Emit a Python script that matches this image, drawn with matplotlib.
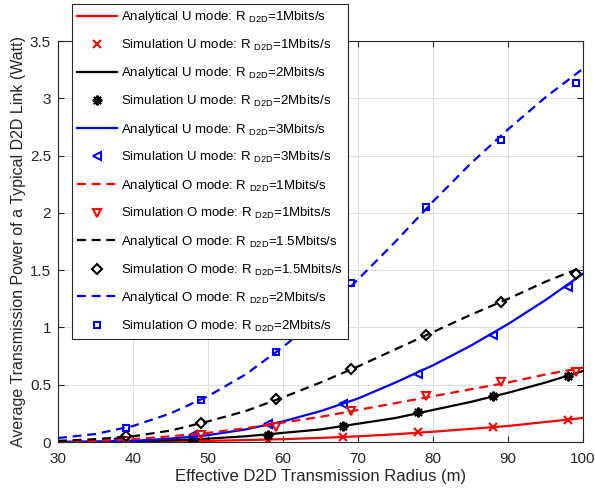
import numpy as np
import matplotlib
matplotlib.use('Agg')
import matplotlib.pyplot as plt

plt.rcParams['font.family'] = ['Liberation Sans', 'DejaVu Sans']
plt.rcParams['mathtext.fontset'] = 'custom'
plt.rcParams['mathtext.rm'] = 'Liberation Sans'
plt.rcParams['mathtext.it'] = 'Liberation Sans'

# analytical curves, every 5 m
r_ana = [30, 35, 40, 45, 50, 55, 60, 65, 70, 75, 80, 85, 90, 95, 100]
ana_u1 = [0.0, 0.001, 0.003, 0.006, 0.01, 0.017, 0.025, 0.036, 0.05, 0.068, 0.09, 0.115, 0.14, 0.175, 0.21]
ana_u2 = [0.0, 0.002, 0.006, 0.015, 0.03, 0.05, 0.08, 0.11, 0.16, 0.21, 0.28, 0.35, 0.43, 0.52, 0.62]
ana_u3 = [0.001, 0.003, 0.01, 0.03, 0.06, 0.11, 0.18, 0.27, 0.38, 0.52, 0.67, 0.84, 1.03, 1.24, 1.47]
ana_o1 = [0.003, 0.01, 0.025, 0.05, 0.08, 0.12, 0.17, 0.22, 0.28, 0.34, 0.40, 0.46, 0.52, 0.59, 0.65]
ana_o15 = [0.01, 0.025, 0.05, 0.10, 0.18, 0.27, 0.39, 0.52, 0.66, 0.81, 0.96, 1.11, 1.25, 1.40, 1.53]
ana_o2 = [0.035, 0.07, 0.14, 0.25, 0.40, 0.59, 0.83, 1.10, 1.42, 1.75, 2.10, 2.43, 2.73, 3.01, 3.26]

# simulation points
r_sim_u = [38, 48, 58, 68, 78, 88, 98]
r_sim_o = [39, 49, 59, 69, 79, 89, 99]
sim_u1 = [0.003, 0.008, 0.02, 0.045, 0.085, 0.135, 0.195]
sim_u2 = [0.005, 0.02, 0.065, 0.14, 0.26, 0.40, 0.58]
sim_u3 = [0.01, 0.06, 0.16, 0.33, 0.59, 0.93, 1.35]
sim_o1 = [0.01, 0.06, 0.13, 0.27, 0.40, 0.52, 0.61]
sim_o15 = [0.05, 0.17, 0.38, 0.64, 0.93, 1.22, 1.47]
sim_o2 = [0.12, 0.37, 0.79, 1.39, 2.05, 2.64, 3.13]

def lab(kind, mode, rate):
  return kind + ' ' + mode + r' mode: R $_{\mathrm{D2D}}$=' + rate + 'Mbits/s'

fig = plt.figure(figsize=(5.95, 4.95), dpi=100)
ax = fig.add_axes([0.0975, 0.107, 0.8825, 0.81])

lw = 1.6
dash = (4, 2.6)
ms = 6
ax.plot(r_ana, ana_u1, color='#ff0000', lw=lw, label=lab('Analytical', 'U', '1'))
ax.plot(r_sim_u, sim_u1, ls='none', marker='x', color='#ff0000', ms=ms, mew=1.5, label=lab('Simulation', 'U', '1'))
ax.plot(r_ana, ana_u2, color='k', lw=lw, label=lab('Analytical', 'U', '2'))
ax.plot(r_sim_u, sim_u2, ls='none', marker=(8, 2, 0), color='k', ms=ms+1, mew=1.5, label=lab('Simulation', 'U', '2'))
ax.plot(r_ana, ana_u3, color='#0000ff', lw=lw, label=lab('Analytical', 'U', '3'))
ax.plot(r_sim_u, sim_u3, ls='none', marker='<', color='#0000ff', mfc='none', ms=ms, mew=1.5, label=lab('Simulation', 'U', '3'))
ax.plot(r_ana, ana_o1, color='#ff0000', lw=lw, dashes=dash, label=lab('Analytical', 'O', '1'))
ax.plot(r_sim_o, sim_o1, ls='none', marker='v', color='#ff0000', mfc='none', ms=ms, mew=1.5, label=lab('Simulation', 'O', '1'))
ax.plot(r_ana, ana_o15, color='k', lw=lw, dashes=dash, label=lab('Analytical', 'O', '1.5'))
ax.plot(r_sim_o, sim_o15, ls='none', marker='D', color='k', mfc='none', ms=ms-0.5, mew=1.5, label=lab('Simulation', 'O', '1.5'))
ax.plot(r_ana, ana_o2, color='#0000ff', lw=lw, dashes=dash, label=lab('Analytical', 'O', '2'))
ax.plot(r_sim_o, sim_o2, ls='none', marker='s', color='#0000ff', mfc='none', ms=ms-1, mew=1.5, label=lab('Simulation', 'O', '2'))

ax.set_xlim(30, 100)
ax.set_ylim(0, 3.5)
ax.set_xticks(np.arange(30, 101, 10))
ax.set_yticks(np.arange(0, 3.51, 0.5))
ax.set_yticklabels(['0', '0.5', '1', '1.5', '2', '2.5', '3', '3.5'])
ax.grid(True, color='#dfdfdf', lw=0.8)
ax.set_axisbelow(True)
ax.tick_params(direction='in', top=True, right=True, labelsize=11, colors='#262626', length=4)
ax.tick_params(axis='x', pad=7)
ax.tick_params(axis='y', pad=5)
for s in ax.spines.values():
  s.set_color('#262626')
  s.set_linewidth(0.8)
ax.set_xlabel('Effective D2D Transmission Radius (m)', fontsize=12, color='#262626', labelpad=2)
ax.set_ylabel('Average Transmission Power of a Typical D2D Link (Watt)', fontsize=11.5, color='#262626', labelpad=3)

leg = ax.legend(loc='upper left', bbox_to_anchor=(0.121, 0.992), bbox_transform=fig.transFigure,
                borderaxespad=0, fontsize=9.5, fancybox=False, framealpha=1, edgecolor='#262626',
                handlelength=3.0, handletextpad=0.3, labelspacing=0.95, borderpad=0.4)
leg.get_frame().set_linewidth(0.8)

fig.savefig('out.png', dpi=100)
